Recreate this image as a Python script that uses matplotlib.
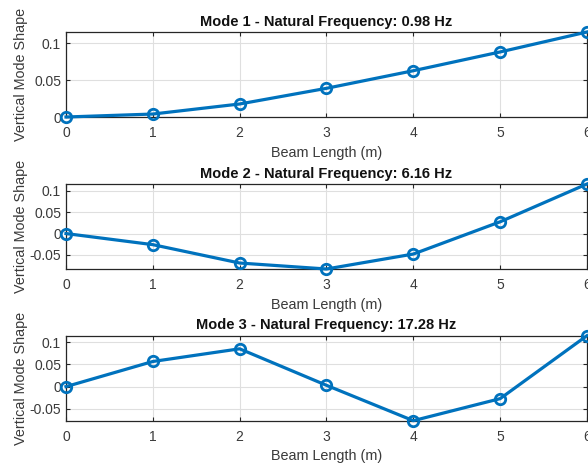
import matplotlib
matplotlib.use("Agg")
import matplotlib.pyplot as plt
import numpy as np

plt.rcParams['font.family'] = ['Liberation Sans', 'DejaVu Sans']

x = [0, 1, 2, 3, 4, 5, 6]
mode1 = [0.0, 0.004, 0.0176, 0.0388, 0.0626, 0.088, 0.115]
mode2 = [0.0, -0.026, -0.069, -0.083, -0.048, 0.0275, 0.116]
mode3 = [0.0, 0.0565, 0.085, 0.003, -0.0765, -0.027, 0.1145]
freqs = [0.98, 6.16, 17.28]
modes = [mode1, mode2, mode3]
yticks = [[0, 0.05, 0.1], [-0.05, 0, 0.05, 0.1], [-0.05, 0, 0.05, 0.1]]
ytlabels = [["0", "0.05", "0.1"], ["-0.05", "0", "0.05", "0.1"], ["-0.05", "0", "0.05", "0.1"]]

fig = plt.figure(figsize=(5.88, 4.63), dpi=100)
positions = [
    (0.1122, 0.7473, 0.886, 0.1836),
    (0.1122, 0.4190, 0.886, 0.1836),
    (0.1122, 0.0914, 0.886, 0.1836),
]
ylims = [(0, 0.115), (-0.083, 0.116), (-0.0765, 0.1145)]
edge = '#262626'
ticklab = '#3a3a3a'
for i in range(3):
    ax = fig.add_axes(positions[i])
    ax.plot(x, modes[i], color='#0072BD', linewidth=2.3, marker='o',
            markersize=7.5, markerfacecolor='none', markeredgewidth=2.0,
            clip_on=False, zorder=3)
    ax.set_xlim(0, 6)
    ax.set_ylim(*ylims[i])
    ax.set_xticks(x)
    ax.set_yticks(yticks[i])
    ax.set_yticklabels(ytlabels[i])
    ax.grid(True, color='#dfdfdf', linewidth=0.8)
    ax.set_axisbelow(True)
    ax.tick_params(direction='in', top=True, right=True, length=3,
                   labelsize=10, colors=edge, labelcolor=ticklab, width=0.8)
    ax.tick_params(axis='x', pad=6.5)
    ax.tick_params(axis='y', pad=3.5)
    for s in ax.spines.values():
        s.set_color(edge)
        s.set_linewidth(0.9)
    ax.set_title(f"Mode {i+1} - Natural Frequency: {freqs[i]:.2f} Hz",
                 fontsize=10.5, fontweight='bold', color='#111111', pad=4.5)
    ax.set_xlabel("Beam Length (m)", fontsize=10.4, color=ticklab, labelpad=4)
    ax.set_ylabel("Vertical Mode Shape", fontsize=10.4, color=ticklab)
    ax.yaxis.set_label_coords(-0.073, 0.5)

fig.savefig("out.png", dpi=100)
